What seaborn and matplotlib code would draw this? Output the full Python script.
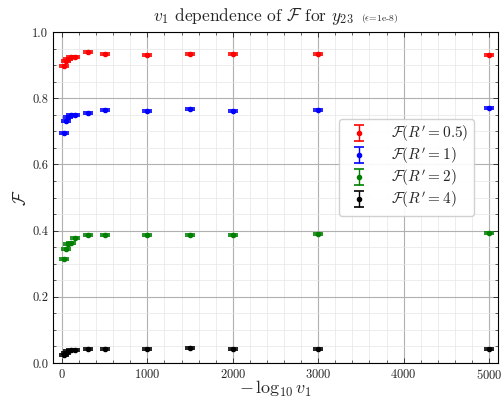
import numpy as np
import seaborn as sns
import matplotlib.pyplot as plt
from matplotlib.ticker import MultipleLocator

v1 = [20, 50, 75, 100, 150, 300, 500, 1000, 1500, 2000, 3000, 5000]
f_05 = [0.898, 0.913, 0.920, 0.924, 0.924, 0.939, 0.934, 0.931, 0.934, 0.933, 0.933, 0.932]
f_1 = [0.696, 0.730, 0.744, 0.749, 0.749, 0.755, 0.764, 0.763, 0.769, 0.762, 0.764, 0.770]
f_2 = [0.314, 0.344, 0.360, 0.364, 0.377, 0.387, 0.387, 0.387, 0.388, 0.388, 0.390, 0.392]
f_4 = [0.025, 0.030, 0.035, 0.038, 0.040, 0.043, 0.043, 0.043, 0.045, 0.043, 0.043, 0.043]
f_err = 0.003

series = [
    (f_05, "red", r"$\mathcal{F}(R'=0.5)$"),
    (f_1, "blue", r"$\mathcal{F}(R'=1)$"),
    (f_2, "green", r"$\mathcal{F}(R'=2)$"),
    (f_4, "black", r"$\mathcal{F}(R'=4)$"),
]

sns.set_style("ticks")
plt.rcParams["font.family"] = "serif"
plt.rcParams["font.serif"] = ["cmr10", "DejaVu Serif"]
plt.rcParams["mathtext.fontset"] = "cm"
plt.rcParams["axes.formatter.use_mathtext"] = True

W, H = 5.02, 3.96
fig = plt.figure(figsize=(W, H), dpi=100)
ax = fig.add_axes([0.1056, 0.0833, 0.8864, 0.8357])

for vals, col, lab in series:
    ax.errorbar(v1, vals, yerr=f_err, fmt="o", color=col, ms=3,
                capsize=3.4, elinewidth=1.0, capthick=1.2, label=lab)
    sns.scatterplot(x=v1, y=vals, color=col, s=10, edgecolor=col, ax=ax, legend=False, zorder=3)

ax.set_xlim(-105, 5105)
ax.set_ylim(0, 1)
ax.xaxis.set_major_locator(MultipleLocator(1000))
ax.xaxis.set_minor_locator(MultipleLocator(200))
ax.yaxis.set_major_locator(MultipleLocator(0.2))
ax.yaxis.set_minor_locator(MultipleLocator(0.05))
ax.yaxis.set_major_formatter(plt.FuncFormatter(lambda v, p: f"{v:.1f}"))
ax.tick_params(which="both", direction="in", top=True, right=True, labelsize=9)
ax.tick_params(which="major", length=3.5, width=0.6)
ax.tick_params(which="minor", length=2, width=0.5)
ax.grid(which="major", color="#b0b0b0", linewidth=0.8)
ax.grid(which="minor", color="#e6e6e6", linewidth=0.5)
ax.set_axisbelow(True)
for s in ax.spines.values():
    s.set_linewidth(0.8)
    s.set_color("black")

ax.set_xlabel(r"$-\,\log_{10}v_1$", fontsize=13, labelpad=-2)
ax.set_ylabel(r"$\mathcal{F}$", fontsize=12.5, labelpad=2)

# title made of a large part and a small trailing part
ty = 1 - 21 / (H * 100)
t_main = fig.text(0, ty, r"$v_1$ dependence of $\mathcal{F}$ for $y_{23}$",
                  fontsize=12.5, ha="left", va="baseline")
t_small = fig.text(0, ty, r"($\epsilon$=1e-8)", fontsize=7, ha="left", va="baseline")
fig.canvas.draw()
r = fig.canvas.get_renderer()
w1 = t_main.get_window_extent(r).width
w2 = t_small.get_window_extent(r).width
gap = 7
cx = (0.1056 + 0.8864 / 2) * W * 100
x0 = cx - (w1 + gap + w2) / 2
t_main.set_x(x0 / (W * 100))
t_small.set_x((x0 + w1 + gap) / (W * 100))

ax.legend(loc="upper right", bbox_to_anchor=(0.964, 0.761), fontsize=11,
          frameon=True, fancybox=True, edgecolor="#cccccc", framealpha=0.9,
          handletextpad=1.1, borderpad=0.35, labelspacing=0.12, handlelength=2.0)

fig.savefig("out.png", dpi=100)
